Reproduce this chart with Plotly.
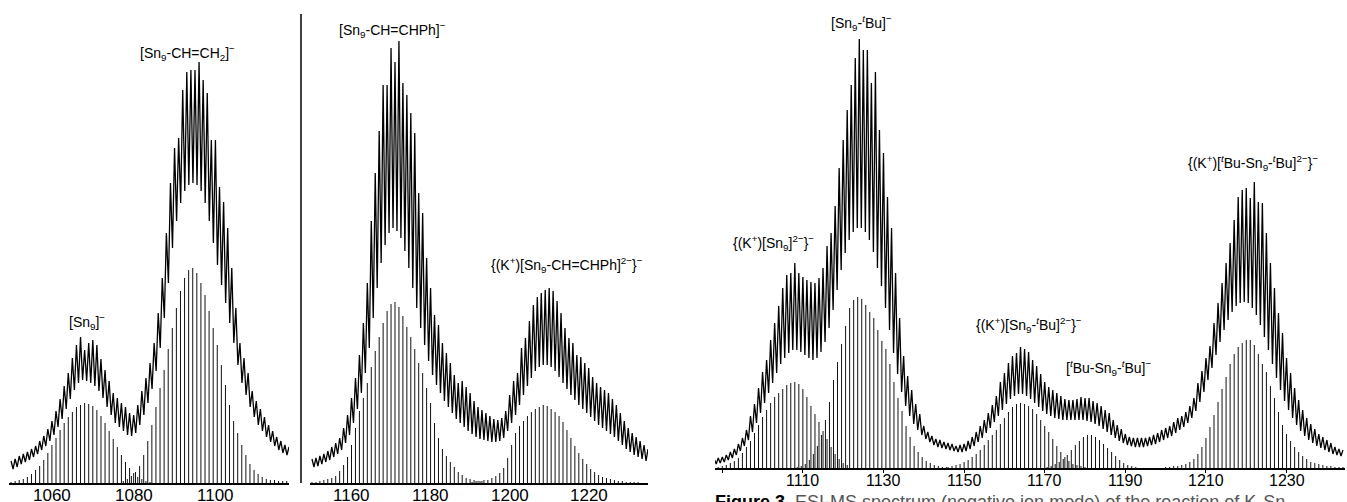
import plotly.graph_objects as go

# ---------------- DATA (heights in arbitrary intensity units) ----------------
# Panel 1: experimental trace (tops at integer m/z, troughs at m/z + 0.5)
p1_exp_start = 1050
p1_exp_top = [22, 24, 27, 29, 31, 34, 37, 42, 47, 54,
              62, 72, 84, 97, 110, 125, 138, 146, 133, 140,
              143, 138, 124, 113, 102, 90, 85, 80, 76, 70,
              68, 78, 92, 105, 120, 140, 170, 205, 250, 300,
              335, 345, 393, 411, 413, 413, 421, 403, 390, 343,
              343, 296, 281, 255, 215, 175, 140, 125, 110, 92,
              82, 74, 66, 58, 52, 46, 42, 38, 36]
p1_exp_trough = [14, 16, 19, 21, 23, 26, 29, 33, 37, 42,
                 48, 56, 64, 74, 84, 93, 100, 103, 102, 100,
                 97, 92, 85, 76, 68, 60, 56, 52, 48, 47,
                 50, 58, 68, 80, 94, 112, 135, 165, 200, 235,
                 262, 280, 292, 298, 300, 298, 292, 280, 262, 240,
                 218, 198, 180, 160, 140, 118, 100, 88, 76, 66,
                 58, 52, 46, 41, 37, 33, 30, 28]
# Panel 1: simulated isotope patterns
p1_sn9_start = 1050.0
p1_sn9 = [1, 2, 3, 4, 6, 9, 13, 17, 23, 30,
          38, 45, 53, 60, 66, 71, 76, 78, 80, 79,
          77, 73, 67, 60, 52, 44, 36, 28, 21, 15,
          10, 6, 4, 2, 1]
p1_vinyl_start = 1077.45
p1_vinyl = [2, 4, 7, 11, 17, 28, 42, 58, 76, 95,
            113, 134, 155, 175, 192, 205, 213, 215, 210, 200,
            188, 172, 155, 138, 118, 98, 78, 62, 50, 38,
            28, 19, 13, 9, 6, 4, 3, 3, 2, 2, 2]

# Panel 2
p2_exp_start = 1150
p2_exp_top = [24, 25, 27, 29, 32, 36, 40, 45, 55, 68,
              85, 105, 128, 160, 200, 262, 310, 352, 398, 398,
              435, 421, 442, 400, 388, 370, 350, 290, 270, 225,
              195, 168, 158, 140, 130, 120, 108, 100, 102, 96,
              90, 82, 76, 73, 70, 67, 64, 63, 65, 72,
              88, 102, 110, 135, 145, 162, 178, 186, 190, 193,
              195, 192, 182, 170, 155, 145, 140, 128, 126, 120,
              115, 106, 100, 96, 93, 90, 84, 78, 70, 62,
              55, 50, 46, 42, 38, 34]
p2_exp_trough = [16, 17, 19, 21, 23, 26, 29, 33, 40, 48,
                 60, 74, 90, 110, 135, 165, 195, 220, 238, 250,
                 255, 252, 245, 232, 215, 195, 175, 155, 138, 122,
                 108, 98, 90, 82, 76, 70, 64, 60, 56, 52,
                 49, 46, 44, 43, 42, 41, 41, 42, 45, 52,
                 60, 68, 78, 88, 97, 105, 112, 116, 118, 118,
                 116, 112, 106, 100, 94, 88, 83, 78, 74, 70,
                 66, 62, 58, 55, 52, 49, 46, 42, 38, 34,
                 31, 28, 26, 24, 22]
p2_ph_start = 1150.0
p2_ph = [1, 1, 2, 3, 4, 5, 7, 12, 18, 26,
         38, 55, 72, 85, 100, 116, 132, 146, 160, 172,
         179, 181, 176, 167, 156, 146, 134, 120, 110, 95,
         80, 60, 45, 34, 27, 21, 16, 11, 8, 5,
         4, 3, 2, 2]
p2_kph_start = 1190.5
p2_kph = [1, 2, 2, 3, 3, 5, 7, 10, 15, 25,
          38, 50, 57, 62, 67, 71, 74, 76, 78, 77,
          74, 71, 67, 61, 53, 45, 37, 30, 24, 19,
          14, 11, 8, 6, 5, 4, 3, 2, 2, 1,
          1, 1, 1]

# Panel 3
p3_exp_start = 1088
p3_exp_top = [9, 10, 11, 13, 16, 19, 24, 30, 38, 52,
              64, 80, 96, 108, 128, 145, 162, 180, 193, 195,
              205, 195, 191, 188, 186, 185, 190, 200, 222, 235,
              262, 300, 328, 358, 383, 410, 429, 418, 418, 385,
              396, 338, 315, 271, 240, 195, 150, 112, 92, 78,
              64, 54, 42, 36, 32, 29, 28, 26, 25, 24,
              22, 23, 24, 27, 31, 36, 42, 48, 55, 63,
              72, 86, 95, 105, 112, 115, 121, 119, 116, 108,
              102, 94, 86, 81, 78, 75, 72, 69, 68, 68,
              69, 71, 70, 70, 67, 65, 62, 58, 55, 48,
              43, 39, 34, 31, 30, 30, 30, 30, 31, 33,
              35, 38, 40, 42, 46, 50, 52, 56, 62, 70,
              85, 97, 110, 122, 145, 165, 185, 205, 225, 248,
              271, 278, 280, 270, 286, 266, 265, 235, 205, 180,
              155, 135, 110, 95, 80, 68, 58, 50, 44, 39,
              34, 31, 28, 25, 21, 19, 18]
p3_exp_trough = [4, 5, 6, 8, 10, 13, 17, 22, 28, 36,
                 45, 55, 65, 75, 85, 95, 104, 110, 115, 118,
                 118, 116, 113, 110, 108, 110, 116, 126, 140, 158,
                 178, 198, 215, 228, 236, 240, 240, 236, 228, 216,
                 200, 182, 160, 138, 115, 94, 76, 62, 52, 44,
                 38, 33, 29, 26, 23, 21, 20, 19, 18, 17,
                 16, 16, 17, 19, 22, 26, 30, 35, 40, 46,
                 52, 58, 64, 69, 72, 74, 74, 72, 69, 65,
                 61, 57, 54, 52, 50, 49, 48, 48, 48, 48,
                 48, 48, 47, 46, 44, 42, 39, 36, 33, 30,
                 27, 25, 23, 22, 21, 21, 21, 22, 23, 24,
                 26, 28, 30, 32, 35, 38, 41, 45, 50, 57,
                 66, 76, 88, 100, 113, 126, 138, 148, 156, 162,
                 165, 166, 165, 160, 153, 143, 131, 118, 104, 90,
                 78, 67, 58, 50, 43, 37, 32, 28, 25, 22,
                 20, 18, 16, 14, 13, 12]
p3_ksn9_start = 1089.0
p3_ksn9 = [1, 2, 3, 5, 7, 10, 15, 21, 27, 35,
           43, 51, 58, 65, 71, 75, 79, 83, 85, 86,
           84, 79, 71, 62, 54, 46, 37, 29, 21, 14,
           9, 5, 3]
p3_tbu_start = 1108.6
p3_tbu = [1, 2, 4, 8, 14, 22, 33, 48, 66, 88,
          106, 124, 142, 160, 168, 171, 169, 163, 156, 150,
          138, 127, 119, 104, 86, 70, 57, 42, 31, 22,
          16, 11, 7, 5, 3, 2, 1, 1]
p3_ktbu_start = 1146.0
p3_ktbu = [1, 2, 3, 4, 6, 8, 11, 14, 18, 23,
           28, 33, 38, 44, 50, 56, 61, 64, 65, 64,
           62, 59, 54, 48, 42, 36, 29, 22, 16, 11,
           7, 4, 3, 2, 1]
p3_tbu2_start = 1170.6
p3_tbu2 = [1, 2, 4, 6, 9, 13, 18, 23, 27, 31,
           33, 33, 31, 28, 24, 20, 16, 12, 8, 5,
           3, 2, 1]
p3_ktbu2_start = 1200.0
p3_ktbu2 = [1, 1, 2, 2, 3, 4, 6, 9, 14, 21,
            30, 41, 53, 66, 79, 91, 104, 114, 121, 125,
            128, 128, 123, 114, 104, 96, 82, 70, 56, 43,
            34, 27, 21, 16, 12, 9, 6, 5, 4, 3,
            2, 2, 1, 1, 1]

p1_ticks = [1060, 1080, 1100]
p2_ticks = [1160, 1180, 1200, 1220]
p3_ticks = [1090, 1110, 1130, 1150, 1170, 1190, 1210, 1230]
p3_labelled = [1110, 1130, 1150, 1170, 1190, 1210, 1230]

labels = [
    "[Sn<sub>9</sub>]<sup>−</sup>",
    "[Sn<sub>9</sub>-CH=CH<sub>2</sub>]<sup>−</sup>",
    "[Sn<sub>9</sub>-CH=CHPh]<sup>−</sup>",
    "{(K<sup>+</sup>)[Sn<sub>9</sub>-CH=CHPh]<sup>2−</sup>}<sup>−</sup>",
    "[Sn<sub>9</sub>-<sup><i>t</i></sup>Bu]<sup>−</sup>",
    "{(K<sup>+</sup>)[Sn<sub>9</sub>]<sup>2−</sup>}<sup>−</sup>",
    "{(K<sup>+</sup>)[Sn<sub>9</sub>-<sup><i>t</i></sup>Bu]<sup>2−</sup>}<sup>−</sup>",
    "[<sup><i>t</i></sup>Bu-Sn<sub>9</sub>-<sup><i>t</i></sup>Bu]<sup>−</sup>",
    "{(K<sup>+</sup>)[<sup><i>t</i></sup>Bu-Sn<sub>9</sub>-<sup><i>t</i></sup>Bu]<sup>2−</sup>}<sup>−</sup>",
]
# label anchor positions (pixels in the 1347x502 canvas)
label_px = [(87, 322), (187, 53), (392, 30), (567, 265), (861, 23),
            (773, 243), (1029, 325), (1108, 368), (1253, 163)]

# ---------------- helpers ----------------
W, H = 1347, 502
FONT = "Liberation Sans, Arial, Helvetica, sans-serif"


def stick_path(start, heights):
    xs, ys = [], []
    for i, h in enumerate(heights):
        m = start + i
        xs += [m, m, None]
        ys += [0, h, None]
    return xs, ys


def zigzag(start, tops, troughs):
    xs, ys = [], []
    for i, t in enumerate(tops):
        xs.append(start + i)
        ys.append(t)
        if i < len(troughs):
            xs.append(start + i + 0.5)
            ys.append(troughs[i])
    return xs, ys


fig = go.Figure()


def add_sticks(start, heights, xa, ya):
    xs, ys = stick_path(start, heights)
    fig.add_trace(go.Scatter(x=xs, y=ys, mode="lines", xaxis=xa, yaxis=ya,
                             line=dict(color="#111111", width=1),
                             hoverinfo="skip", showlegend=False))


def add_exp(start, tops, troughs, xa, ya):
    xs, ys = zigzag(start, tops, troughs)
    fig.add_trace(go.Scatter(x=xs, y=ys, mode="lines", xaxis=xa, yaxis=ya,
                             line=dict(color="#000000", width=1.3),
                             hoverinfo="skip", showlegend=False))


add_sticks(p1_sn9_start, p1_sn9, "x", "y")
add_sticks(p1_vinyl_start, p1_vinyl, "x", "y")
add_exp(p1_exp_start, p1_exp_top, p1_exp_trough, "x", "y")

add_sticks(p2_ph_start, p2_ph, "x2", "y2")
add_sticks(p2_kph_start, p2_kph, "x2", "y2")
add_exp(p2_exp_start, p2_exp_top, p2_exp_trough, "x2", "y2")

add_sticks(p3_ksn9_start, p3_ksn9, "x3", "y3")
add_sticks(p3_tbu_start, p3_tbu, "x3", "y3")
add_sticks(p3_ktbu_start, p3_ktbu, "x3", "y3")
add_sticks(p3_tbu2_start, p3_tbu2, "x3", "y3")
add_sticks(p3_ktbu2_start, p3_ktbu2, "x3", "y3")
add_exp(p3_exp_start, p3_exp_top, p3_exp_trough, "x3", "y3")


def px_x(p):
    return p / W


def px_y(p):
    return 1 - p / H


xcommon = dict(showgrid=False, zeroline=False, showline=True, linecolor="black",
               linewidth=1.5, showticklabels=False, fixedrange=True)
ycommon = dict(visible=False, showgrid=False, zeroline=False, fixedrange=True)

fig.update_layout(
    width=W, height=H,
    margin=dict(l=0, r=0, t=0, b=0),
    paper_bgcolor="white", plot_bgcolor="white",
    showlegend=False,
    xaxis=dict(domain=[px_x(9), px_x(289)], range=[1049.5, 1118], anchor="y",
               tickvals=p1_ticks, ticks="", **xcommon),
    yaxis=dict(domain=[px_y(483), 1], range=[0, 483], anchor="x", **ycommon),
    xaxis2=dict(domain=[px_x(310), px_x(648)], range=[1149.5, 1235], anchor="y2",
                tickvals=p2_ticks, ticks="", **xcommon),
    yaxis2=dict(domain=[px_y(483), 1], range=[0, 483], anchor="x2", **ycommon),
    xaxis3=dict(domain=[px_x(715), px_x(1345)], range=[1088.2, 1244.5], anchor="y3",
                tickvals=p3_ticks, ticks="outside", ticklen=3,
                tickcolor="black", **xcommon),
    yaxis3=dict(domain=[px_y(468), 1], range=[0, 468], anchor="x3", **ycommon),
)

# tick labels drawn as text under each axis
for v in p1_ticks:
    fig.add_annotation(text=str(v), xref="x", yref="paper", x=v, y=px_y(495),
                       xanchor="center", yanchor="middle", showarrow=False,
                       font=dict(family=FONT, size=17, color="black"))
for v in p2_ticks:
    fig.add_annotation(text=str(v), xref="x2", yref="paper", x=v, y=px_y(495),
                       xanchor="center", yanchor="middle", showarrow=False,
                       font=dict(family=FONT, size=17, color="black"))
for v in p3_labelled:
    fig.add_annotation(text=str(v), xref="x3", yref="paper", x=v, y=px_y(480),
                       xanchor="center", yanchor="middle", showarrow=False,
                       font=dict(family=FONT, size=16, color="black"))

# separator line between panels 1 and 2
fig.add_shape(type="line", xref="paper", yref="paper",
              x0=px_x(301), x1=px_x(301), y0=px_y(483), y1=px_y(14),
              line=dict(color="black", width=1.5))

for txt, (lx, ly) in zip(labels, label_px):
    fig.add_annotation(text=txt, xref="paper", yref="paper",
                       x=px_x(lx), y=px_y(ly), xanchor="center", yanchor="middle",
                       showarrow=False, font=dict(family=FONT, size=14, color="black"))

# partially visible caption at the bottom
fig.add_annotation(text="<b>Figure 3.</b> <span style='color:#555555'>ESI-MS spectrum (negative ion mode) of the reaction of K<sub>4</sub>Sn<sub>9</sub></span>",
                   xref="paper", yref="paper", x=px_x(713), y=px_y(503),
                   xanchor="left", yanchor="middle", showarrow=False,
                   font=dict(family=FONT, size=18, color="black"))

fig.write_html("out.html", config={"displayModeBar": False},
               post_script="document.body.style.margin='0';document.body.style.overflow='hidden';")
